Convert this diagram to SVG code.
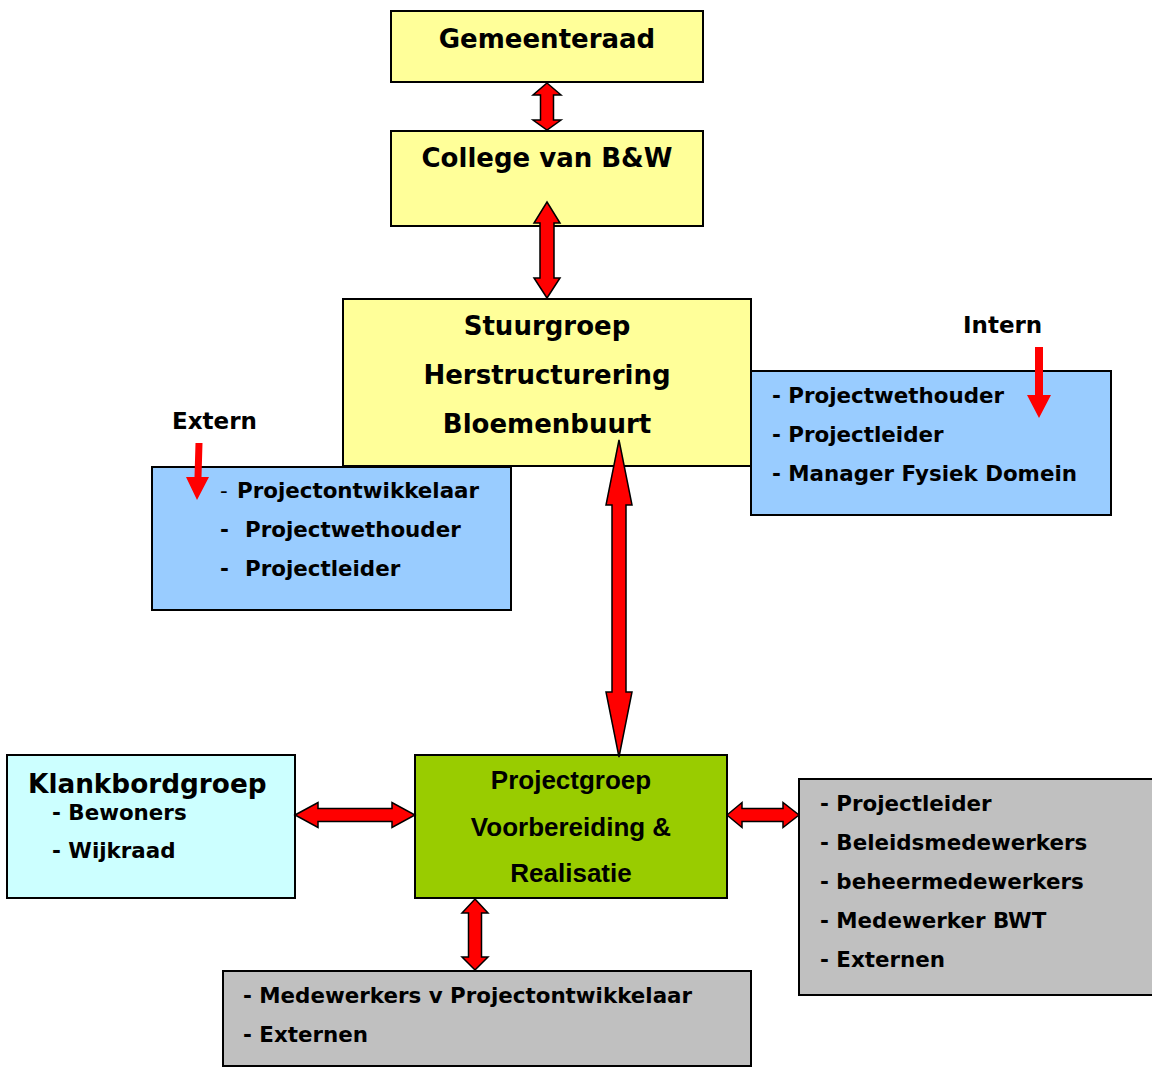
<svg xmlns="http://www.w3.org/2000/svg" width="1152" height="1067" viewBox="0 0 1152 1067">
<style>
.box{stroke:#000;stroke-width:2}
.t{font-family:"DejaVu Sans",Verdana,sans-serif;font-weight:bold;fill:#000}
.h{font-size:26px;text-anchor:middle}
.l{font-size:21.4px}
.lab{font-size:23px}
.pg{font-family:"Liberation Sans",Arial,sans-serif;font-weight:bold;font-size:26px;text-anchor:middle;fill:#000}
.arr{fill:#FF0000;stroke:#000;stroke-width:1.5;stroke-linejoin:miter}
.ind{fill:#FF0000}
</style>
<rect width="1152" height="1067" fill="#fff"/>
<g id="gemeenteraad">
<rect class="box" x="391" y="11" width="312" height="71" fill="#FFFF99"/>
<text class="t h" x="547" y="48">Gemeenteraad</text>
</g>
<g id="college">
<rect class="box" x="391" y="131" width="312" height="95" fill="#FFFF99"/>
<text class="t h" x="547" y="167">College van B&amp;W</text>
</g>
<g id="stuurgroep">
<rect class="box" x="343" y="299" width="408" height="167" fill="#FFFF99"/>
<text class="t h" x="547" y="335">Stuurgroep</text>
<text class="t h" x="547" y="384">Herstructurering</text>
<text class="t h" x="547" y="433">Bloemenbuurt</text>
</g>
<g id="extern">
<text class="t lab" x="172" y="429">Extern</text>
<rect class="box" x="152" y="467" width="359" height="143" fill="#99CCFF"/>
<text class="t l" y="498"><tspan x="220" font-weight="normal">-</tspan><tspan x="237">Projectontwikkelaar</tspan></text>
<text class="t l" y="537"><tspan x="220">-</tspan><tspan x="245">Projectwethouder</tspan></text>
<text class="t l" y="576"><tspan x="220">-</tspan><tspan x="245">Projectleider</tspan></text>
</g>
<g id="intern">
<text class="t lab" x="963" y="333">Intern</text>
<rect class="box" x="751" y="371" width="360" height="144" fill="#99CCFF"/>
<text class="t l" x="772" y="403">- Projectwethouder</text>
<text class="t l" x="772" y="442">- Projectleider</text>
<text class="t l" x="772" y="481">- Manager Fysiek Domein</text>
</g>
<g id="klankbordgroep">
<rect class="box" x="7" y="755" width="288" height="143" fill="#CCFFFF"/>
<text class="t" x="28" y="793" font-size="26.3">Klankbordgroep</text>
<text class="t l" x="52" y="820">- Bewoners</text>
<text class="t l" x="52" y="858">- Wijkraad</text>
</g>
<g id="projectgroep">
<rect class="box" x="415" y="755" width="312" height="143" fill="#99CC00"/>
<text class="pg" x="571" y="789">Projectgroep</text>
<text class="pg" x="571" y="836">Voorbereiding &amp;</text>
<text class="pg" x="571" y="882">Realisatie</text>
</g>
<g id="medewerkers-rechts">
<rect class="box" x="799" y="779" width="370" height="216" fill="#C0C0C0"/>
<text class="t l" x="820" y="811">- Projectleider</text>
<text class="t l" x="820" y="850">- Beleidsmedewerkers</text>
<text class="t l" x="820" y="889">- beheermedewerkers</text>
<text class="t l" x="820" y="928">- Medewerker BWT</text>
<text class="t l" x="820" y="967">- Externen</text>
</g>
<g id="medewerkers-onder">
<rect class="box" x="223" y="971" width="528" height="95" fill="#C0C0C0"/>
<text class="t l" x="243" y="1003">- Medewerkers v Projectontwikkelaar</text>
<text class="t l" x="243" y="1042">- Externen</text>
</g>
<g id="connectors">
<polygon class="arr" points="547,83 561,95 553.5,95 553.5,120 561,120 547,130 533,120 540.5,120 540.5,95 533,95"/>
<polygon class="arr" points="547,202 560,223 554,223 554,278 560,278 547,298 534,278 540,278 540,223 534,223"/>
<polygon class="arr" points="619,440 632,505 626,505 626,692 632,692 619,757 606,692 612,692 612,505 606,505"/>
<polygon class="arr" points="475,899 488,913 481.5,913 481.5,957 488,957 475,970 462,957 468.5,957 468.5,913 462,913"/>
<polygon class="arr" points="295,815 318,802.5 318,808.5 392,808.5 392,802.5 415,815 392,827.5 392,821.5 318,821.5 318,827.5"/>
<polygon class="arr" points="727,815 742,802.5 742,808.5 783,808.5 783,802.5 799,815 783,827.5 783,821.5 742,821.5 742,827.5"/>
<polygon class="ind" points="195.5,443 202.5,443 201.5,477 209,477 197,500 186,477 194.5,477"/>
<polygon class="ind" points="1035,347 1043,347 1043,395 1051,395 1039,418 1027,395 1035,395"/>
</g>
</svg>
